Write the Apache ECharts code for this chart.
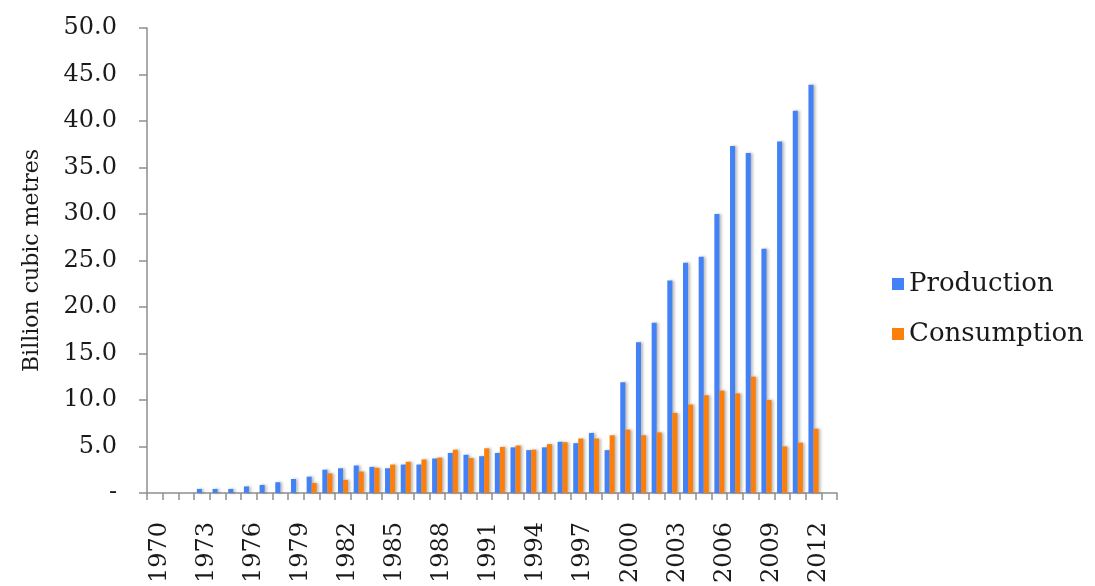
<!DOCTYPE html>
<html>
<head>
<meta charset="utf-8">
<script src="https://cdn.jsdelivr.net/npm/echarts@6/dist/echarts.min.js"></script>
<style>
html,body{margin:0;padding:0;background:#fff;}
#chart{width:1095px;height:586px;}
</style>
</head>
<body>
<div id="chart"></div>
<script>
const years = ['1970','1971','1972','1973','1974','1975','1976','1977','1978','1979',
  '1980','1981','1982','1983','1984','1985','1986','1987','1988','1989',
  '1990','1991','1992','1993','1994','1995','1996','1997','1998','1999',
  '2000','2001','2002','2003','2004','2005','2006','2007','2008','2009',
  '2010','2011','2012','2013'];

const production = [0, 0, 0, 0.43, 0.43, 0.43, 0.7, 0.86, 1.15, 1.5,
  1.75, 2.5, 2.65, 2.95, 2.8, 2.65, 3.05, 3.05, 3.7, 4.3,
  4.1, 3.95, 4.3, 4.9, 4.6, 4.9, 5.5, 5.35, 6.45, 4.6,
  11.9, 16.2, 18.3, 22.85, 24.75, 25.4, 30.0, 37.3, 36.55, 26.25,
  37.8, 41.1, 43.9, null];

const consumption = [0, 0, 0, 0, 0, 0, 0, 0, 0, 0,
  1.07, 2.1, 1.4, 2.3, 2.7, 3.05, 3.35, 3.6, 3.8, 4.65,
  3.75, 4.8, 4.95, 5.1, 4.65, 5.25, 5.45, 5.85, 5.85, 6.2,
  6.8, 6.2, 6.5, 8.6, 9.5, 10.5, 11.0, 10.7, 12.5, 10.0,
  5.0, 5.4, 6.9, null];

const seriesNames = ['Production', 'Consumption'];
const yAxisName = 'Billion cubic metres';

const chart = echarts.init(document.getElementById('chart'), null, {renderer: 'canvas'});
const serif = 'DejaVu Serif';
const axisGrey = '#8e8e8e';
const barShadow = {shadowColor: 'rgba(0,0,0,0.28)', shadowBlur: 3, shadowOffsetX: 2, shadowOffsetY: 0};

chart.setOption({
  animation: false,
  backgroundColor: '#ffffff',
  grid: {left: 147, right: 258, top: 28, bottom: 92, containLabel: false},
  legend: {
    orient: 'vertical',
    left: 887,
    top: 266,
    itemWidth: 12,
    itemHeight: 12,
    itemGap: 24,
    icon: 'rect',
    textStyle: {fontFamily: serif, fontSize: 26, color: '#1a1a1a'},
    data: seriesNames
  },
  xAxis: {
    type: 'category',
    data: years,
    boundaryGap: true,
    axisLine: {lineStyle: {color: axisGrey, width: 1.5}},
    axisTick: {show: true, interval: 0, length: 7, lineStyle: {color: axisGrey, width: 1.5}},
    axisLabel: {
      interval: 2,
      rotate: 90,
      margin: 29,
      fontFamily: serif,
      fontSize: 24,
      color: '#1a1a1a',
      verticalAlign: 'top',
      lineHeight: 10
    },
    splitLine: {show: false}
  },
  yAxis: {
    type: 'value',
    min: 0,
    max: 50,
    interval: 5,
    name: yAxisName,
    nameLocation: 'middle',
    nameGap: 104,
    nameTextStyle: {fontFamily: serif, fontSize: 22, color: '#1a1a1a'},
    axisLine: {show: true, lineStyle: {color: axisGrey, width: 1.5}},
    axisTick: {show: true, length: 8, lineStyle: {color: axisGrey, width: 1.5}},
    axisLabel: {
      margin: 30,
      fontFamily: serif,
      fontSize: 24,
      color: '#1a1a1a',
      formatter: function (v) { return v === 0 ? '-' : v.toFixed(1); }
    },
    splitLine: {show: false}
  },
  series: [
    {
      name: seriesNames[0],
      type: 'bar',
      data: production,
      barGap: '0%',
      barCategoryGap: '36%',
      itemStyle: Object.assign({color: '#4282f6'}, barShadow)
    },
    {
      name: seriesNames[1],
      type: 'bar',
      data: consumption,
      barGap: '0%',
      barCategoryGap: '36%',
      itemStyle: Object.assign({color: '#fc7f0c'}, barShadow)
    }
  ]
});
</script>
</body>
</html>
